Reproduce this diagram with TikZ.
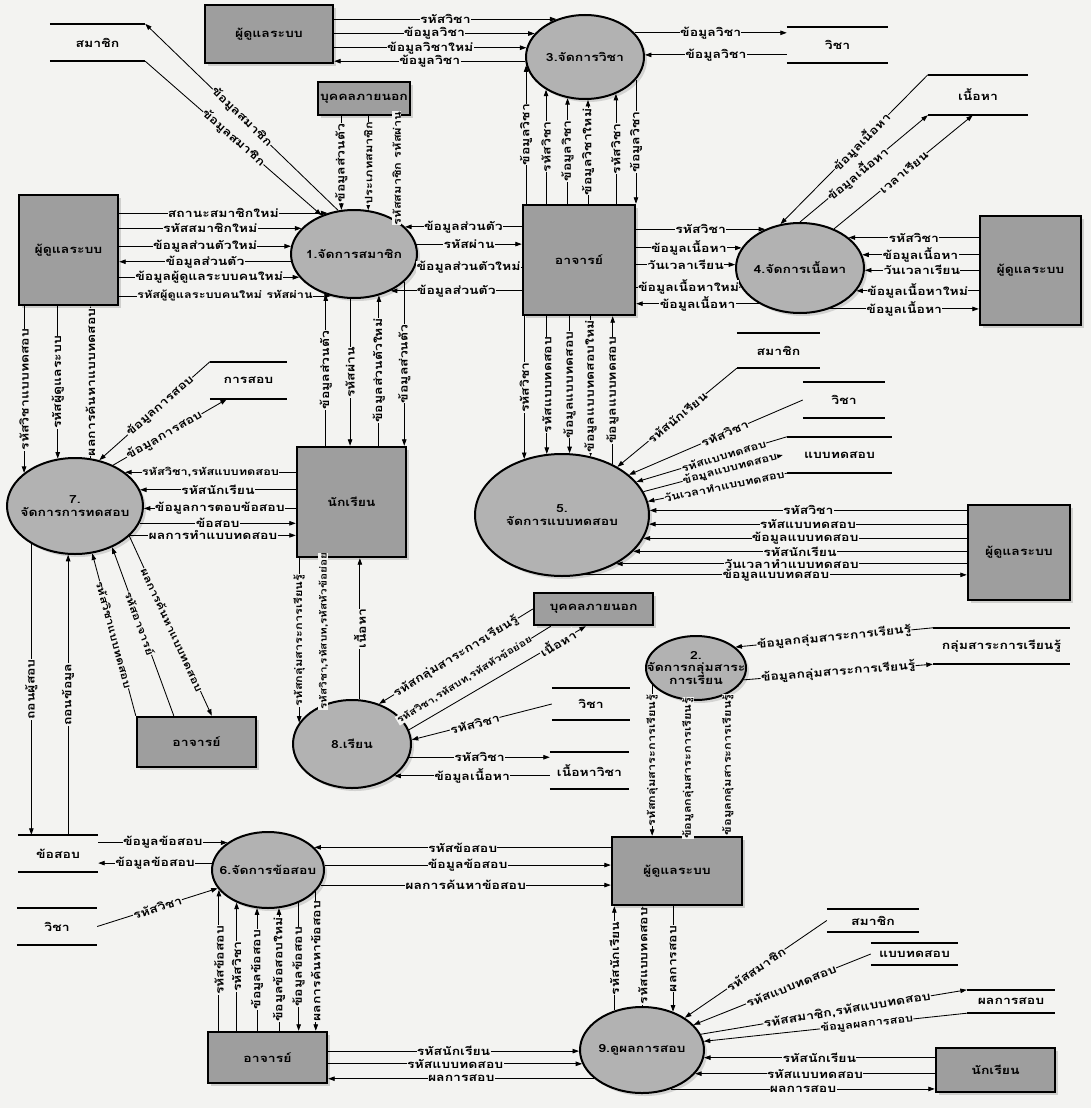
\documentclass[tikz,border=0pt]{standalone}
\usepackage{fontspec}
\setmainfont{Loma}[Script=Thai,FakeStretch=1.25]
\usetikzlibrary{shapes.geometric,arrows.meta,shadows}
\definecolor{bgc}{RGB}{243,243,241}
\newcommand\lfont{\bfseries\fontsize{11.2}{12.5}\selectfont}
\newcommand\mfont{\bfseries\fontsize{10.2}{11.5}\selectfont}
\newcommand\sfont{\bfseries\fontsize{9.4}{10.5}\selectfont}
\tikzset{
  ext/.style={draw,line width=2.4pt,fill=black!38,inner sep=0pt,drop shadow={shadow xshift=3pt,shadow yshift=-3pt,fill=black!40,opacity=.4}},
  proc/.style={ellipse,draw,line width=2pt,fill=black!30,inner sep=0pt,drop shadow={shadow xshift=3pt,shadow yshift=-3pt,fill=black!40,opacity=.35}},
  ptext/.style={align=center,inner sep=0pt},
  sline/.style={draw,line width=1.6pt},
  store/.style={inner sep=0pt,append after command={(\tikzlastnode.north west) edge[sline] (\tikzlastnode.north east) (\tikzlastnode.south west) edge[sline] (\tikzlastnode.south east)}},
  flow/.style={line width=.85pt,>={Triangle[length=6.5pt,width=4.5pt]}},
  lab/.style={fill=bgc,inner sep=.3pt},
  vlab/.style={lab,rotate=90},
  slab/.style={lab,sloped},
}
% entity: name x1 y1 x2 y2 text
\newcommand\ent[6]{\node[ext,minimum width=(#4-#2)*1pt,minimum height=(#5-#3)*1pt] (#1) at ({(#2+#4)/2},{(#3+#5)/2}) {#6};}
% process: name cx cy rx ry text
\newcommand\proc[6]{%
  \expandafter\def\csname erx#1\endcsname{#4}%
  \expandafter\def\csname ery#1\endcsname{#5}%
  \node[proc,minimum width=2*#4*1pt,minimum height=2*#5*1pt] (#1) at (#2,#3) {};
  \node[ptext] (#1t) at (#1.center) {#6};}
% store: name x1 x2 ytop ybot text
\newcommand\store[6]{\node[store,minimum width=(#3-#2)*1pt,minimum height=(#5-#4)*1pt] (#1) at ({(#2+#3)/2},{(#4+#5)/2}) {#6};}
% horizontal flow: [label opts] arrow ellipse dy side target label
\newcommand\hf[7][]{%
  \pgfmathtruncatemacro\fa{round(atan2(-(#4),(#5)*\csname erx#3\endcsname*sqrt(1-((#4)/\csname ery#3\endcsname)^2)))}%
  \draw[flow,#2] (#3.\fa) -- node[lab,#1]{#7} (#3.\fa -| #6);}
% vertical flow: [label opts] arrow ellipse dx side target label
\newcommand\vf[7][]{%
  \pgfmathtruncatemacro\fa{round(atan2((#5)*\csname ery#3\endcsname*sqrt(1-((#4)/\csname erx#3\endcsname)^2),#4))}%
  \draw[flow,#2] (#3.\fa) -- node[vlab,#1]{#7} (#3.\fa |- #6);}
\begin{document}
\begin{tikzpicture}[x=1pt,y=-1pt,every node/.append style={font=\lfont}]
\fill[bgc] (0,0) rectangle (1091,1108);
\useasboundingbox (0,0) rectangle (1091,1108);
% entities
\ent{AT}{205}{5}{333}{63}{ผู้ดูแลระบบ}
\ent{OU1}{318}{82}{410}{115}{บุคคลภายนอก}
\ent{AL}{19}{195}{118}{305}{ผู้ดูแลระบบ}
\ent{TA}{523}{205}{635}{315}{อาจารย์}
\ent{AR}{980}{216}{1081}{325}{ผู้ดูแลระบบ}
\ent{SM}{297}{447}{406}{557}{นักเรียน}
\ent{AR2}{968}{505}{1070}{600}{ผู้ดูแลระบบ}
\ent{OU2}{534}{593}{653}{625}{บุคคลภายนอก}
\ent{TB}{137}{717}{256}{767}{อาจารย์}
\ent{AB}{612}{837}{742}{905}{ผู้ดูแลระบบ}
\ent{TC}{208}{1032}{327}{1083}{อาจารย์}
\ent{SB}{936}{1048}{1055}{1092}{นักเรียน}
% processes
\proc{P1}{354}{254}{63}{44}{1.จัดการสมาชิก}
\proc{P3}{585}{57}{59}{42}{3.จัดการวิชา}
\proc{P4}{800}{268}{64}{45}{4.จัดการเนื้อหา}
\proc{P5}{562}{515}{87}{61}{5.\\จัดการแบบทดสอบ}
\proc{P7}{75}{506}{68}{48}{7.\\จัดการการทดสอบ}
\proc{P2}{696}{668}{50}{32}{2.\\จัดการกลุ่มสาระ\\การเรียน}
\proc{P8}{352}{744}{59}{44}{8.เรียน}
\proc{P6}{268}{870}{56}{38}{6.จัดการข้อสอบ}
\proc{P9}{642}{1050}{62}{43}{9.ดูผลการสอบ}
% stores
\store{SMa}{50}{145}{24}{61}{สมาชิก}
\store{SVa}{787}{888}{27}{63}{วิชา}
\store{SC}{928}{1028}{75}{115}{เนื้อหา}
\store{SX}{210}{287}{362}{399}{การสอบ}
\store{SMb}{737}{820}{333}{368}{สมาชิก}
\store{SVb}{803}{885}{382}{418}{วิชา}
\store{STa}{787}{892}{437}{473}{แบบทดสอบ}
\store{SG}{933}{1070}{628}{664}{กลุ่มสาระการเรียนรู้}
\store{SVc}{552}{630}{688}{720}{วิชา}
\store{SCV}{550}{629}{752}{789}{เนื้อหาวิชา}
\store{SQ}{18}{98}{835}{872}{ข้อสอบ}
\store{SVd}{17}{97}{908}{945}{วิชา}
\store{SMc}{827}{919}{909}{932}{สมาชิก}
\store{STb}{871}{958}{943}{965}{แบบทดสอบ}
\store{SR}{967}{1055}{990}{1013}{ผลการสอบ}
% ---- P3
\hf{<-}{P3}{-37}{-1}{AT.east}{รหัสวิชา}
\hf{<-}{P3}{-23}{-1}{AT.east}{ข้อมูลวิชา}
\hf{<-}{P3}{-9}{-1}{AT.east}{ข้อมูลวิชาใหม่}
\hf{->}{P3}{4}{-1}{AT.east}{ข้อมูลวิชา}
\hf{->}{P3}{-24}{1}{SVa.west}{ข้อมูลวิชา}
\hf{<-}{P3}{-2}{1}{SVa.west}{ข้อมูลวิชา}
\vf{<-}{P3}{-58}{-1}{TA.north}{ข้อมูลวิชา}
\vf{<-}{P3}{-38}{-1}{TA.north}{รหัสวิชา}
\vf{<-}{P3}{-17}{-1}{TA.north}{ข้อมูลวิชา}
\vf{<-}{P3}{3}{-1}{TA.north}{ข้อมูลวิชาใหม่}
\vf{<-}{P3}{30}{-1}{TA.north}{รหัสวิชา}
\vf{->}{P3}{50}{-1}{TA.north}{ข้อมูลวิชา}
% ---- P1
\draw[flow,->] (P1.110) -- node[slab]{ข้อมูลสมาชิก} (SMa.north east);
\draw[flow,<-] (P1.130) -- node[slab]{ข้อมูลสมาชิก} (SMa.south east);
\vf{<-}{P1}{-12}{1}{OU1.south}{ข้อมูลส่วนตัว}
\vf[font=\mfont]{<-}{P1}{14}{1}{OU1.south}{ประเภทสมาชิก}
\vf[font=\mfont]{->}{P1}{42}{1}{OU1.south}{รหัสสมาชิก รหัสผ่าน}
\hf{<-}{P1}{-40}{-1}{AL.east}{สถานะสมาชิกใหม่}
\hf{<-}{P1}{-25}{-1}{AL.east}{รหัสสมาชิกใหม่}
\hf{<-}{P1}{-8}{-1}{AL.east}{ข้อมูลส่วนตัวใหม่}
\hf{->}{P1}{8}{-1}{AL.east}{ข้อมูลส่วนตัว}
\hf{<-}{P1}{23}{-1}{AL.east}{ข้อมูลผู้ดูแลระบบคนใหม่}
\hf[font=\mfont]{<-}{P1}{41}{-1}{AL.east}{รหัสผู้ดูแลระบบคนใหม่ รหัสผ่าน}
\hf{<-}{P1}{-27}{1}{TA.west}{ข้อมูลส่วนตัว}
\hf{->}{P1}{-10}{1}{TA.west}{รหัสผ่าน}
\hf{<-}{P1}{13}{1}{TA.west}{ข้อมูลส่วนตัวใหม่}
\hf{<-}{P1}{36}{1}{TA.west}{ข้อมูลส่วนตัว}
\vf{<-}{P1}{-28}{-1}{SM.north}{ข้อมูลส่วนตัว}
\vf{->}{P1}{-4}{-1}{SM.north}{รหัสผ่าน}
\vf{<-}{P1}{24}{-1}{SM.north}{ข้อมูลส่วนตัวใหม่}
\vf{->}{P1}{49}{-1}{SM.north}{ข้อมูลส่วนตัว}
% ---- P4
\hf{<-}{P4}{-38}{-1}{TA.east}{รหัสวิชา}
\hf{<-}{P4}{-20}{-1}{TA.east}{ข้อมูลเนื้อหา}
\hf{<-}{P4}{-3}{-1}{TA.east}{วันเวลาเรียน}
\hf{<-}{P4}{19}{-1}{TA.east}{ข้อมูลเนื้อหาใหม่}
\hf{->}{P4}{35}{-1}{TA.east}{ข้อมูลเนื้อหา}
\hf{<-}{P4}{-30}{1}{AR.west}{รหัสวิชา}
\hf{<-}{P4}{-13}{1}{AR.west}{ข้อมูลเนื้อหา}
\hf{<-}{P4}{2}{1}{AR.west}{วันเวลาเรียน}
\hf{<-}{P4}{22}{1}{AR.west}{ข้อมูลเนื้อหาใหม่}
\hf{->}{P4}{40}{1}{AR.west}{ข้อมูลเนื้อหา}
\draw[flow,<-] (P4.114) -- node[slab,pos=.55]{ข้อมูลเนื้อหา} (SC.north west);
\draw[flow,->] (P4.90) -- node[slab,pos=.45]{ข้อมูลเนื้อหา} (SC.south west);
\draw[flow,->] (P4.49) -- node[slab]{เวลาเรียน} ([xshift=45pt]SC.south west);
% ---- P5
\vf{<-}{P5}{-37}{1}{TA.south}{รหัสวิชา}
\vf{<-}{P5}{-15}{1}{TA.south}{รหัสแบบทดสอบ}
\vf{<-}{P5}{7}{1}{TA.south}{ข้อมูลแบบทดสอบ}
\vf{<-}{P5}{28}{1}{TA.south}{ข้อมูลแบบทดสอบใหม่}
\vf{->}{P5}{50}{1}{TA.south}{ข้อมูลแบบทดสอบ}
\draw[flow,<-] (P5.41) -- node[slab]{รหัสนักเรียน} (SMb.south west);
\draw[flow,<-] (P5.31) -- node[slab,pos=.55]{รหัสวิชา} (SVb.west);
\draw[flow,<-] (P5.24) -- node[slab,pos=.58,font=\mfont]{รหัสแบบทดสอบ} (STa.north west);
\draw[flow,->] (P5.16) -- node[slab,pos=.62,font=\mfont]{ข้อมูลแบบทดสอบ} ([xshift=-4pt]STa.west);
\draw[flow,<-] (P5.9) -- node[slab,pos=.55,font=\mfont]{วันเวลาทำแบบทดสอบ} (STa.south west);
\hf{<-}{P5}{-5}{1}{AR2.west}{รหัสวิชา}
\hf{<-}{P5}{9}{1}{AR2.west}{รหัสแบบทดสอบ}
\hf{<-}{P5}{23}{1}{AR2.west}{ข้อมูลแบบทดสอบ}
\hf{<-}{P5}{36}{1}{AR2.west}{รหัสนักเรียน}
\hf{<-}{P5}{48}{1}{AR2.west}{วันเวลาทำแบบทดสอบ}
\hf{->}{P5}{59}{1}{AR2.west}{ข้อมูลแบบทดสอบ}
% ---- P7
\vf{<-}{P7}{-50}{1}{AL.south}{รหัสวิชาแบบทดสอบ}
\vf{<-}{P7}{-17}{1}{AL.south}{รหัสผู้ดูแลระบบ}
\vf{->}{P7}{15}{1}{AL.south}{ผลการค้นหาแบบทดสอบ}
\draw[flow,<-] (P7.62) -- node[slab,pos=.55]{ข้อมูลการสอบ} (SX.north west);
\draw[flow,->] (P7.47) -- node[slab,pos=.45]{ข้อมูลการสอบ} ([xshift=17pt]SX.south west);
\hf[font=\mfont]{<-}{P7}{-33}{1}{SM.west}{รหัสวิชา,รหัสแบบทดสอบ}
\hf{<-}{P7}{-16}{1}{SM.west}{รหัสนักเรียน}
\hf{<-}{P7}{2}{1}{SM.west}{ข้อมูลการตอบข้อสอบ}
\hf{->}{P7}{17}{1}{SM.west}{ข้อสอบ}
\hf{->}{P7}{29}{1}{SM.west}{ผลการทำแบบทดสอบ}
\draw[flow,<-] (P7.-70) -- node[slab,font=\mfont]{รหัสวิชาแบบทดสอบ} (TB.north west);
\draw[flow,<-] (P7.-48) -- node[slab,font=\mfont,pos=.45]{รหัสอาจารย์} ([xshift=38pt]TB.north west);
\draw[flow,->] (P7.-29) -- node[slab,font=\mfont,pos=.52]{ผลการค้นหาแบบทดสอบ} ([xshift=76pt]TB.north west);
\vf{->}{P7}{-43}{-1}{SQ.north}{ถอนผู้สอบ}
\vf{<-}{P7}{-7}{-1}{SQ.north}{ถอนข้อมูล}
% ---- P8
\vf[font=\mfont]{<-}{P8}{-52}{1}{SM.south}{รหัสกลุ่มสาระการเรียนรู้}
\vf[font=\sfont]{<-}{P8}{-28}{1}{SM.south}{รหัสวิชา,รหัสบท,รหัสหัวข้อย่อย}
\vf{->}{P8}{8}{1}{SM.south}{เนื้อหา}
\draw[flow,<-] (P8.56) -- node[slab,pos=.5]{รหัสกลุ่มสาระการเรียนรู้} (OU2.west);
\draw[flow,<-] (P8.27) -- node[slab,font=\sfont,pos=.42]{รหัสวิชา,รหัสบท,รหัสหัวข้อย่อย} ([xshift=18pt]OU2.south west);
\draw[flow,->] (P8.14) -- node[slab,pos=.84]{เนื้อหา} ([xshift=53pt]OU2.south west);
\draw[flow,<-] (P8.4) -- node[slab,pos=.45]{รหัสวิชา} (SVc.west);
\hf{->}{P8}{13}{1}{SCV.west}{รหัสวิชา}
\hf{<-}{P8}{31}{1}{SCV.west}{ข้อมูลเนื้อหา}
% ---- P2
\draw[flow,<-] (P2.28) -- node[slab]{ข้อมูลกลุ่มสาระการเรียนรู้} (SG.north west);
\draw[flow,->] (P2.-14) -- node[slab]{ข้อมูลกลุ่มสาระการเรียนรู้} (SG.south west);
\vf[font=\mfont]{->}{P2}{-43}{-1}{AB.north}{รหัสกลุ่มสาระการเรียนรู้}
\vf[font=\mfont]{->}{P2}{-8}{-1}{AB.north}{ข้อมูลกลุ่มสาระการเรียนรู้}
\vf[font=\mfont]{<-}{P2}{31}{-1}{AB.north}{ข้อมูลกลุ่มสาระการเรียนรู้}
% ---- P6
\hf{<-}{P6}{-27}{-1}{SQ.east}{ข้อมูลข้อสอบ}
\hf{->}{P6}{-7}{-1}{SQ.east}{ข้อมูลข้อสอบ}
\draw[flow,<-] (P6.200) -- node[slab]{รหัสวิชา} (SVd.east);
\vf{<-}{P6}{-48}{-1}{TC.north}{รหัสข้อสอบ}
\vf{<-}{P6}{-31}{-1}{TC.north}{รหัสวิชา}
\vf{<-}{P6}{-11}{-1}{TC.north}{ข้อมูลข้อสอบ}
\vf{<-}{P6}{11}{-1}{TC.north}{ข้อมูลข้อสอบใหม่}
\vf{->}{P6}{30}{-1}{TC.north}{ข้อมูลข้อสอบ}
\vf{->}{P6}{47}{-1}{TC.north}{ผลการค้นหาข้อสอบ}
\hf{<-}{P6}{-22}{1}{AB.west}{รหัสข้อสอบ}
\hf{->}{P6}{-5}{1}{AB.west}{ข้อมูลข้อสอบ}
\hf{->}{P6}{15}{1}{AB.west}{ผลการค้นหาข้อสอบ}
% ---- P9
\vf{->}{P9}{-27}{1}{AB.south}{รหัสนักเรียน}
\vf{->}{P9}{1}{1}{AB.south}{รหัสแบบทดสอบ}
\vf{<-}{P9}{30}{1}{AB.south}{ผลการสอบ}
\hf{<-}{P9}{1}{-1}{TC.east}{รหัสนักเรียน}
\hf{<-}{P9}{14}{-1}{TC.east}{รหัสแบบทดสอบ}
\hf{->}{P9}{28}{-1}{TC.east}{ผลการสอบ}
\hf{<-}{P9}{7}{1}{SB.west}{รหัสนักเรียน}
\hf{<-}{P9}{23}{1}{SB.west}{รหัสแบบทดสอบ}
\hf{->}{P9}{38}{1}{SB.west}{ผลการสอบ}
\draw[flow,<-] (P9.37) -- node[slab]{รหัสสมาชิก} (SMc.west);
\draw[flow,<-] (P9.26) -- node[slab,pos=.55]{รหัสแบบทดสอบ} (STb.west);
\draw[flow,->] (P9.15) -- node[slab,pos=.55]{รหัสสมาชิก,รหัสแบบทดสอบ} (SR.north west);
\draw[flow,<-] (P9.8) -- node[slab,pos=.62,font=\mfont]{ข้อมูลผลการสอบ} (SR.south west);
\end{tikzpicture}
\end{document}
